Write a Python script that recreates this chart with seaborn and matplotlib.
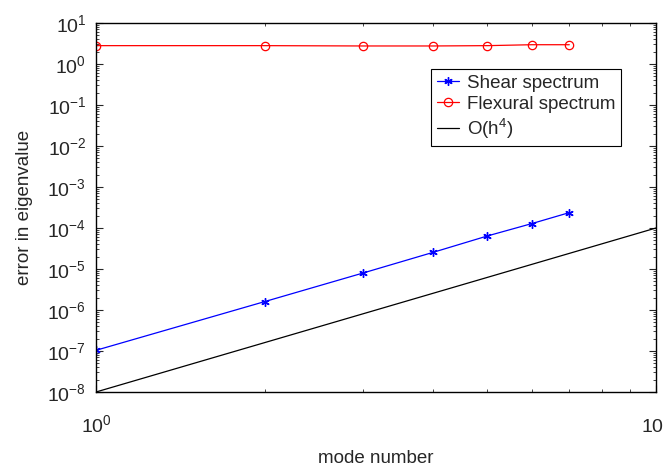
import matplotlib
matplotlib.use('Agg')
import matplotlib.pyplot as plt
import seaborn as sns
import pandas as pd
from matplotlib.ticker import LogLocator, NullFormatter

# data
modes = [1, 2, 3, 4, 5, 6, 7]
shear_err = [1.04e-7, 1.6e-6, 8.0e-6, 2.55e-5, 6.4e-5, 1.28e-4, 2.37e-4]
flex_err = [2.8, 2.8, 2.75, 2.75, 2.8, 2.95, 2.95]
ref_x = [1, 10]
ref_y = [1e-8, 1e-4]

df_shear = pd.DataFrame({'mode': modes, 'err': shear_err})
df_flex = pd.DataFrame({'mode': modes, 'err': flex_err})
df_ref = pd.DataFrame({'mode': ref_x, 'err': ref_y})

sns.set_style('white')
plt.rcParams['font.family'] = ['Liberation Sans', 'DejaVu Sans']
plt.rcParams['mathtext.fontset'] = 'custom'
plt.rcParams['mathtext.rm'] = 'Liberation Sans'
plt.rcParams['mathtext.it'] = 'Liberation Sans:italic'

fig = plt.figure(figsize=(6.64, 4.68), dpi=100)
ax = fig.add_axes([0.1446, 0.1624, 0.8434, 0.7885])

# MATLAB-like asterisk marker
star = (6, 2, 0)
sns.lineplot(x='mode', y='err', data=df_shear, ax=ax, color='blue', marker=star,
             markersize=6, markeredgecolor='blue', markeredgewidth=1.0,
             linewidth=0.9, label='Shear spectrum')
sns.lineplot(x='mode', y='err', data=df_flex, ax=ax, color='red', marker='o',
             markersize=6, markerfacecolor='none', markeredgecolor='red',
             markeredgewidth=0.9, linewidth=0.9, label='Flexural spectrum')
sns.lineplot(x='mode', y='err', data=df_ref, ax=ax, color='black', linewidth=0.9,
             label='O(h$^4$)')

ax.set_xscale('log')
ax.set_yscale('log')
ax.set_xlim(1, 10)
ax.set_ylim(1e-8, 1e1)

ax.yaxis.set_major_locator(LogLocator(base=10, numticks=20))
ax.yaxis.set_minor_locator(LogLocator(base=10, subs=range(2, 10), numticks=20))
ax.yaxis.set_minor_formatter(NullFormatter())
ax.xaxis.set_minor_formatter(NullFormatter())

ax.tick_params(which='both', direction='in', top=True, right=True, bottom=True, left=True)
ax.tick_params(which='major', length=5, width=0.8, labelsize=14)
ax.tick_params(which='minor', length=2.5, width=0.6)
ax.tick_params(axis='x', which='major', pad=16)
ax.tick_params(axis='y', which='major', pad=7)
for s in ax.spines.values():
    s.set_color('black')
    s.set_linewidth(1.0)

ax.set_xlabel('mode number', fontsize=13.5, labelpad=10)
ax.set_ylabel('error in eigenvalue', fontsize=13.5, labelpad=10)

leg = ax.legend(loc='upper right', bbox_to_anchor=(0.9375, 0.875), fontsize=13.5,
                frameon=True, fancybox=False, edgecolor='black', framealpha=1,
                handlelength=1.2, handletextpad=0.4, borderpad=0.3, labelspacing=0.2,
                borderaxespad=0)
leg.get_frame().set_linewidth(0.8)

plt.savefig('out.png', dpi=100)
